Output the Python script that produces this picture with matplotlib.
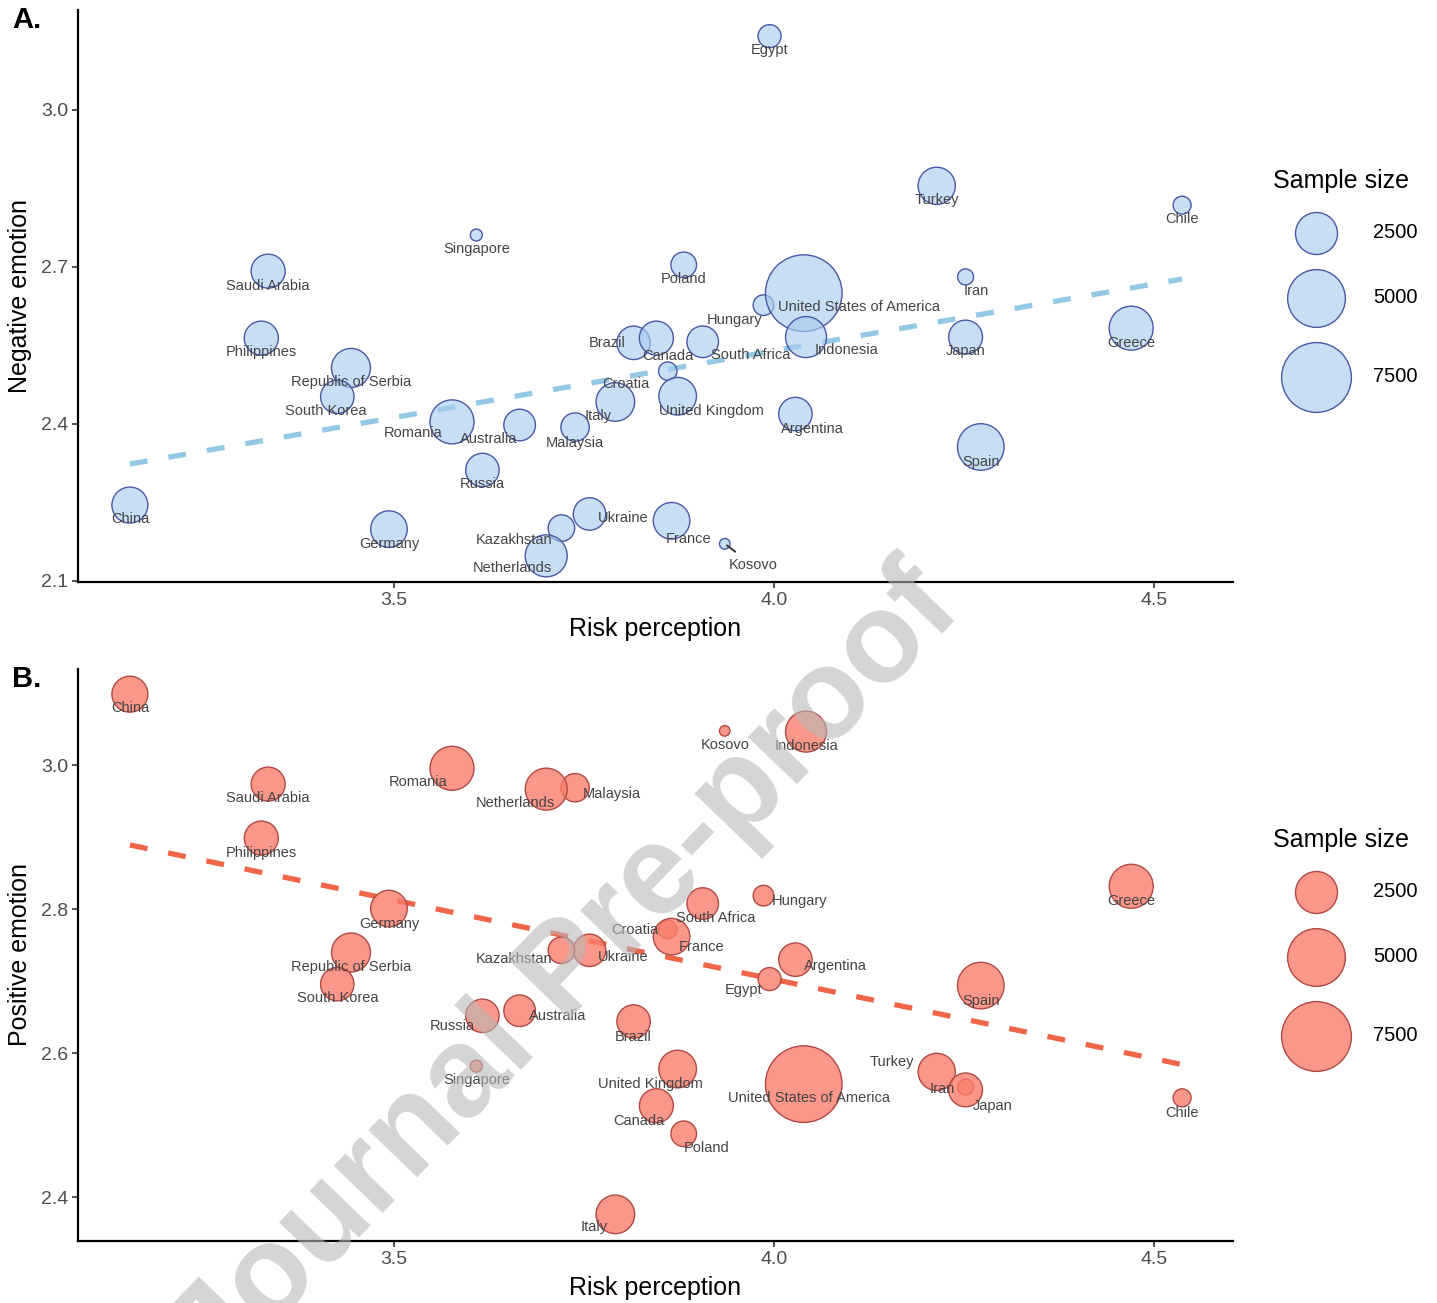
import numpy as np
import matplotlib
matplotlib.use("Agg")
import matplotlib.pyplot as plt

plt.rcParams["font.family"] = ["Liberation Sans", "DejaVu Sans"]

# country-level means (risk perception, negative / positive emotion) and sample sizes
countries = ["China", "Saudi Arabia", "Philippines", "Republic of Serbia", "South Korea",
             "Romania", "Germany", "Singapore", "Russia", "Australia", "Malaysia", "Italy",
             "Croatia", "Brazil", "Canada", "Hungary", "South Africa",
             "United States of America", "Indonesia", "Poland", "United Kingdom",
             "Argentina", "Ukraine", "Kazakhstan", "Netherlands", "France", "Kosovo",
             "Egypt", "Turkey", "Chile", "Iran", "Japan", "Greece", "Spain"]

risk = [3.152, 3.334, 3.325, 3.443, 3.425, 3.576, 3.493, 3.608, 3.616, 3.665, 3.738, 3.791,
        3.860, 3.815, 3.845, 3.986, 3.906, 4.039, 4.042, 3.881, 3.873, 4.028, 3.757, 3.720,
        3.700, 3.865, 3.935, 3.994, 4.214, 4.537, 4.252, 4.252, 4.470, 4.272]

negative = [2.245, 2.692, 2.564, 2.507, 2.452, 2.404, 2.199, 2.761, 2.312, 2.398, 2.394, 2.442,
            2.501, 2.555, 2.564, 2.627, 2.557, 2.650, 2.566, 2.704, 2.453, 2.419, 2.228, 2.201,
            2.148, 2.215, 2.171, 3.141, 2.855, 2.818, 2.681, 2.566, 2.583, 2.356]

positive = [3.099, 2.974, 2.899, 2.740, 2.696, 2.996, 2.801, 2.582, 2.652, 2.659, 2.969, 2.376,
            2.772, 2.644, 2.527, 2.819, 2.808, 2.557, 3.047, 2.488, 2.578, 2.730, 2.743, 2.743,
            2.967, 2.762, 3.048, 2.703, 2.574, 2.538, 2.553, 2.549, 2.832, 2.694]

sample_size = [1770, 1560, 1560, 2120, 1500, 2770, 1840, 110, 1500, 1320, 1030, 2070,
               360, 1500, 1560, 480, 1320, 9130, 2370, 810, 1960, 1500, 1400, 880,
               2500, 1840, 75, 625, 1910, 340, 250, 1540, 2770, 3140]

legend_sizes = [2500, 5000, 7500]

# label offsets in pixels (dx, dy down), mimicking the repelled labels
offsets_a = {
    "China": (0, 14), "Saudi Arabia": (0, 15), "Philippines": (0, 14),
    "Republic of Serbia": (0, 14), "South Korea": (-12, 14), "Romania": (-39, 11),
    "Germany": (0, 15), "Singapore": (0, 14), "Russia": (0, 14), "Australia": (-31, 14),
    "Malaysia": (0, 16), "Italy": (-17, 14), "Croatia": (-42, 13), "Brazil": (-26, 0),
    "Canada": (12, 18), "Hungary": (-29, 15), "South Africa": (48, 13),
    "United States of America": (55, 14), "Indonesia": (40, 13), "Poland": (0, 14),
    "United Kingdom": (34, 15), "Argentina": (17, 15), "Ukraine": (34, 4),
    "Kazakhstan": (-47, 12), "Netherlands": (-34, 12), "France": (17, 18),
    "Kosovo": (28, 21), "Egypt": (0, 14), "Turkey": (0, 14), "Chile": (0, 14),
    "Iran": (11, 14), "Japan": (0, 14), "Greece": (0, 15), "Spain": (0, 15),
}
offsets_b = {
    "China": (0, 14), "Saudi Arabia": (0, 14), "Philippines": (0, 15),
    "Republic of Serbia": (0, 15), "South Korea": (0, 14), "Romania": (-34, 14),
    "Germany": (0, 15), "Singapore": (0, 14), "Russia": (-30, 10), "Australia": (38, 5),
    "Malaysia": (37, 6), "Italy": (-21, 13), "Croatia": (-33, 1), "Brazil": (0, 15),
    "Canada": (-17, 15), "Hungary": (36, 5), "South Africa": (13, 14),
    "United States of America": (5, 14), "Indonesia": (0, 14), "Poland": (23, 14),
    "United Kingdom": (-27, 15), "Argentina": (40, 6), "Ukraine": (34, 7),
    "Kazakhstan": (-47, 9), "Netherlands": (-31, 14), "France": (30, 10),
    "Kosovo": (0, 14), "Egypt": (-26, 11), "Turkey": (-45, -10), "Chile": (0, 15),
    "Iran": (-23, 2), "Japan": (27, 16), "Greece": (0, 15), "Spain": (0, 15),
}


def radius_px(n):
    return 2 + 0.38 * np.sqrt(np.asarray(n, dtype=float))


def marker_area(n):
    # scatter size is (diameter in points)^2, figure dpi = 100
    return (2 * radius_px(n) * 0.72) ** 2


W, H = 1437, 1303
fig = plt.figure(figsize=(W / 100, H / 100), dpi=100)


def frac(x0, y0, x1, y1):
    return [x0 / W, 1 - y1 / H, (x1 - x0) / W, (y1 - y0) / H]


ax_a = fig.add_axes(frac(78, 10, 1233, 582))
ax_b = fig.add_axes(frac(78, 669, 1233, 1241))

panels = [
    (ax_a, negative, "Negative emotion", (3.0837, 4.604), (2.098, 3.191), [2.1, 2.4, 2.7, 3.0],
     (169/255, 205/255, 240/255, 0.65), "#4a58a6", "#94c9e5", offsets_a, "A."),
    (ax_b, positive, "Positive emotion", (3.0837, 4.604), (2.339, 3.134), [2.4, 2.6, 2.8, 3.0],
     (250/255, 125/255, 108/255, 0.8), "#b04a44", "#ef6548", offsets_b, "B."),
]

x = np.array(risk)
for ax, yvals, ylabel, xlim, ylim, yticks, face, edge, lcol, offs, tag in panels:
    y = np.array(yvals)
    slope, intercept = np.polyfit(x, y, 1)
    xs = np.array([x.min(), x.max()])
    ax.plot(xs, intercept + slope * xs, color=lcol, lw=3.8, dashes=(3.4, 4.0), zorder=1)
    ax.scatter(x, y, s=marker_area(sample_size), facecolor=face, edgecolor=edge,
               linewidth=1.0, zorder=2)
    for name, xi, yi in zip(countries, x, y):
        dx, dy = offs[name]
        props = None
        if name == "Kosovo" and tag == "A.":
            props = dict(arrowstyle="-", color="#333333", lw=1.4, shrinkA=4, shrinkB=2)
        ax.annotate(name, (xi, yi), xytext=(dx, -dy), textcoords="offset pixels",
                    ha="center", va="center", fontsize=10.5, color="#444444",
                    arrowprops=props, zorder=3)

    ax.set_xlim(*xlim)
    ax.set_ylim(*ylim)
    ax.set_xticks([3.5, 4.0, 4.5])
    ax.set_yticks(yticks)
    ax.set_xticklabels(["3.5", "4.0", "4.5"])
    ax.set_yticklabels([f"{t:.1f}" for t in yticks])
    ax.tick_params(labelsize=14, colors="#4d4d4d", length=4, width=1.2, pad=3)
    ax.tick_params(color="#333333")
    for side in ["top", "right"]:
        ax.spines[side].set_visible(False)
    for side in ["left", "bottom"]:
        ax.spines[side].set_linewidth(1.6)
        ax.spines[side].set_color("black")
    ax.set_xlabel("Risk perception", fontsize=18)
    ax.set_ylabel(ylabel, fontsize=18)
    ax.xaxis.set_label_coords(0.5, -0.062)
    ax.yaxis.set_label_coords(-0.04, 0.5)

    # legend, drawn as its own little panel to the right
    top = (1 - ax.get_position().y1) * H
    lg = fig.add_axes([1255 / W, 1 - (top + 410) / H, 180 / W, 410 / H])
    lg.set_xlim(1255, 1435)
    lg.set_ylim(top + 410, top)
    lg.axis("off")
    lg.text(1341, top + 171, "Sample size", fontsize=18, ha="center", va="center")
    r = radius_px(legend_sizes)
    yk = top + 223
    for i, n in enumerate(legend_sizes):
        if i > 0:
            yk += r[i - 1] + 15 + r[i]
        lg.scatter([1316], [yk], s=marker_area(n), facecolor=face, edgecolor=edge, linewidth=1.0)
        lg.text(1373, yk, str(n), fontsize=14.5, ha="left", va="center")

    fig.text(12 / W, 1 - (top + 10) / H, tag, fontsize=21, fontweight="bold",
             ha="left", va="center")

# watermark
fig.text(568 / W, 1 - 974 / H, "Journal Pre-proof", rotation=46, fontsize=92,
         fontweight="bold", color="#b8b8b8", alpha=0.6, ha="center", va="center")

fig.savefig("out.png", dpi=100)
